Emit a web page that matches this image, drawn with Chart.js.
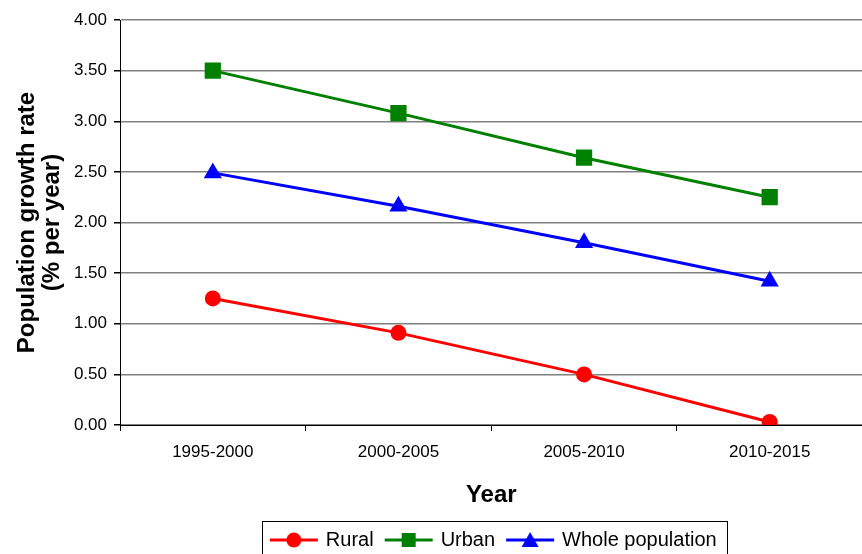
<!DOCTYPE html>
<html><head><meta charset="utf-8">
<script src="https://cdn.jsdelivr.net/npm/chart.js@4"></script>
<style>html,body{margin:0;padding:0;overflow:hidden;background:#fff;width:862px;height:554px}#wrap{width:874px;height:560px}</style>
</head><body><div id="wrap"><canvas id="c" width="874" height="560"></canvas></div>
<script>
const categories = ['1995-2000','2000-2005','2005-2010','2010-2015'];
const rural = [1.25, 0.91, 0.50, 0.03];
const urban = [3.50, 3.08, 2.64, 2.25];
const whole = [2.49, 2.16, 1.80, 1.42];
const yTicks = [0, 0.5, 1, 1.5, 2, 2.5, 3, 3.5, 4];

const FONT = 'Liberation Sans, Arial, sans-serif';
const LEG_PAD = 13;

function legendIcon(color, style){
  const c = document.createElement('canvas');
  c.width = 56; c.height = 20;
  const g = c.getContext('2d');
  g.strokeStyle = color; g.fillStyle = color; g.lineWidth = 3;
  g.beginPath(); g.moveTo(4,10); g.lineTo(52,10); g.stroke();
  g.beginPath();
  if (style==='circle'){ g.arc(28,10,7.5,0,Math.PI*2); }
  else if (style==='rect'){ g.rect(21,3,14,14); }
  else { g.moveTo(28,2); g.lineTo(36.5,17); g.lineTo(19.5,17); g.closePath(); }
  g.fill();
  return c;
}

const legendPlace = {
  id:'legendPlace',
  afterLayout(chart){
    const l = chart.legend, a = chart.chartArea;
    if(!l) return;
    l.left = a.left + 6; l.right = a.right; l.width = l.right - l.left;
  },
  afterDraw(chart){
    const l = chart.legend, ctx = chart.ctx;
    if(!l || !l.lineWidths) return;
    const w = l.lineWidths[0];
    const start = (l.left + LEG_PAD + l.right - w)/2;
    ctx.save();
    ctx.font = '20px ' + FONT;
    let x = start;
    l.legendItems.forEach((it,i)=>{ x += 44 + 10 + ctx.measureText(it.text).width + (i < l.legendItems.length-1 ? LEG_PAD : 0); });
    const x0 = Math.round(start - 10) + 0.5, x1 = Math.round(x + 10) + 0.5;
    ctx.strokeStyle='#000'; ctx.lineWidth=1;
    ctx.strokeRect(x0, 521.5, x1 - x0, 36);
    ctx.restore();
  }
};

new Chart(document.getElementById('c'), {
  type:'line',
  data:{
    labels: categories,
    datasets:[
      {label:'Rural', data:rural, borderColor:'#FF0000', backgroundColor:'#FF0000', pointStyle:'circle', pointRadius:8, borderWidth:3, pointBorderWidth:0, legendIcon:legendIcon('#FF0000','circle')},
      {label:'Urban', data:urban, borderColor:'#008000', backgroundColor:'#008000', pointStyle:'rect', pointRadius:11.5, borderWidth:3, pointBorderWidth:0, legendIcon:legendIcon('#008000','rect')},
      {label:'Whole population', data:whole, borderColor:'#0000FF', backgroundColor:'#0000FF', pointStyle:'triangle', pointRadius:10.5, borderWidth:3, pointBorderWidth:0, legendIcon:legendIcon('#0000FF','triangle')}
    ]
  },
  options:{
    responsive:false, animation:false, devicePixelRatio:1,
    layout:{padding:{top:20,left:15,right:0,bottom:0}},
    plugins:{
      tooltip:{enabled:false},
      legend:{
        position:'bottom',
        labels:{
          usePointStyle:true, pointStyleWidth:44, color:'#000', font:{family:FONT, size:20}, padding:LEG_PAD,
          generateLabels(chart){
            return chart.data.datasets.map((d,i)=>({text:d.label, pointStyle:d.legendIcon, fillStyle:d.borderColor, strokeStyle:d.borderColor, lineWidth:0, datasetIndex:i, fontColor:'#000'}));
          }
        }
      }
    },
    scales:{
      x:{
        offset:true,
        grid:{display:true, drawOnChartArea:false, drawTicks:true, offset:true, tickLength:6, tickColor:'#000'},
        border:{color:'#000', width:1},
        ticks:{color:'#000', font:{family:FONT, size:17}, padding:11, maxRotation:0},
        title:{display:true, text:'Year', color:'#000', font:{family:FONT, size:24, weight:'bold'}, padding:{top:0,bottom:7}},
        afterFit(s){ s.height = 92; }
      },
      y:{
        min:0, max:4,
        afterBuildTicks(s){ s.ticks = yTicks.map(v=>({value:v})); },
        grid:{color:'#808080', lineWidth:1.5, tickLength:6, tickColor:'#000'},
        border:{color:'#000', width:1},
        ticks:{color:'#000', font:{family:FONT, size:17}, padding:7, callback:v=>Number(v).toFixed(2)},
        title:{display:true, text:['Population growth rate','(% per year)'], color:'#000', font:{family:FONT, size:24, weight:'bold', lineHeight:1.05}, padding:{top:0,bottom:0}},
        afterFit(s){ s.width = 105; }
      }
    }
  },
  plugins:[legendPlace]
});
</script></body></html>
